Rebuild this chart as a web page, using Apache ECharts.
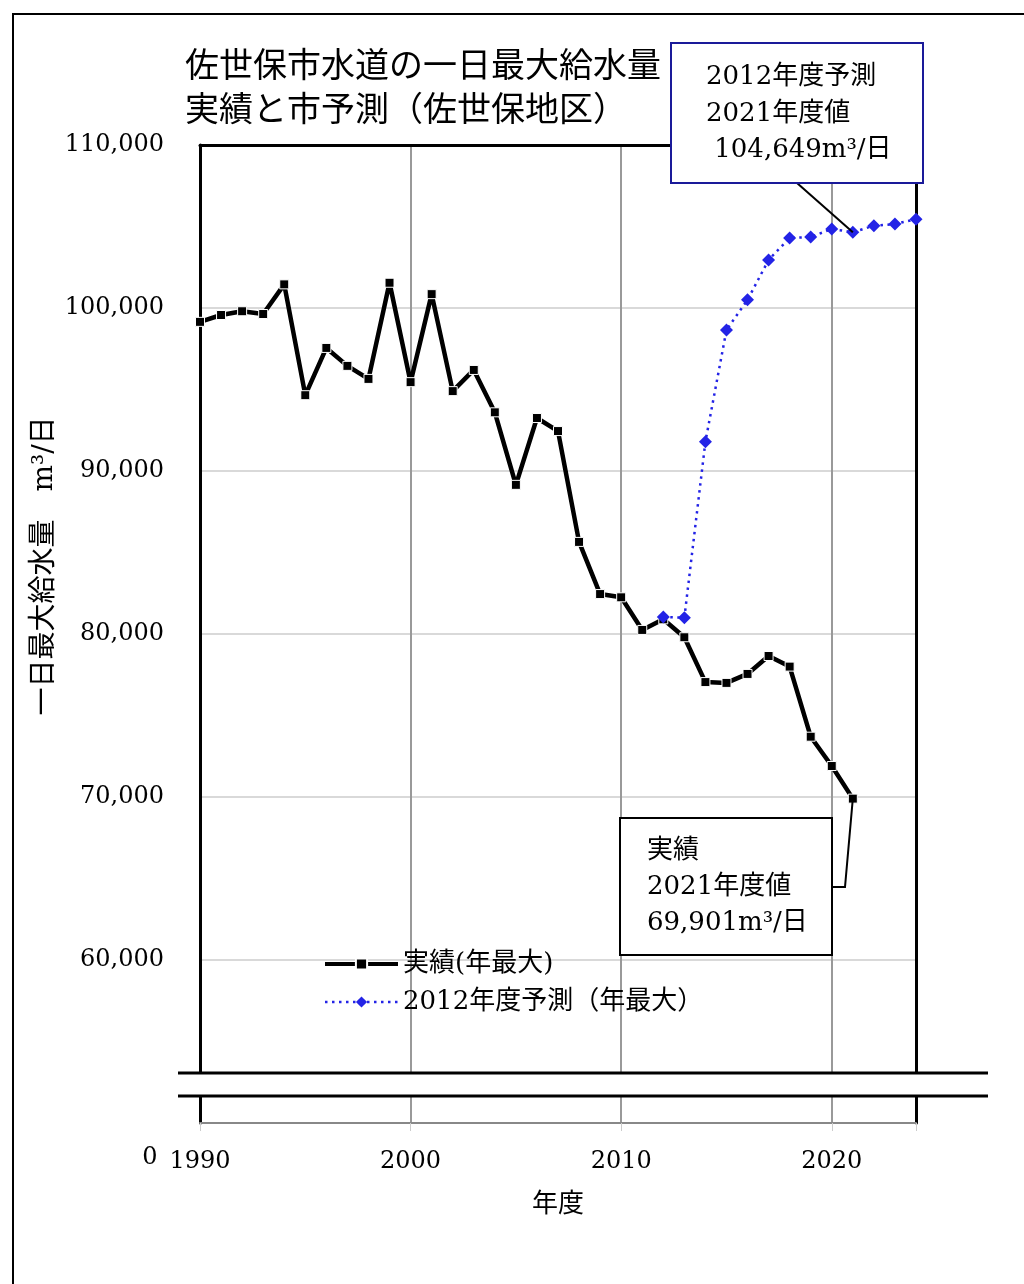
<!DOCTYPE html>
<html>
<head>
<meta charset="utf-8">
<script src="https://cdn.jsdelivr.net/npm/echarts@6/dist/echarts.min.js"></script>
<style>
  html, body { margin: 0; padding: 0; background: #fff; }
  #main { width: 1024px; height: 1284px; }
</style>
</head>
<body>
<div id="main"></div>
<script>
// 実績 (年最大)
var actualYears = [1990, 1991, 1992, 1993, 1994, 1995, 1996, 1997, 1998, 1999,
  2000, 2001, 2002, 2003, 2004, 2005, 2006, 2007, 2008, 2009,
  2010, 2011, 2012, 2013, 2014, 2015, 2016, 2017, 2018, 2019, 2020, 2021];
var actualValues = [99150, 99570, 99800, 99630, 101450, 94650, 97550, 96450, 95650, 101550,
  95450, 100850, 94900, 96200, 93600, 89150, 93250, 92450, 85650, 82450,
  82250, 80250, 80900, 79800, 77050, 77000, 77550, 78650, 78000, 73700, 71900, 69901];
// 2012年度予測 (年最大)
var forecastYears = [2012, 2013, 2014, 2015, 2016, 2017, 2018, 2019, 2020, 2021, 2022, 2023, 2024];
var forecastValues = [81050, 81000, 91800, 98650, 100500, 102950, 104300, 104350, 104850, 104649, 105050, 105150, 105450];
var xTickLabels = ['1990', '2000', '2010', '2020'];

var serif = '"DejaVu Serif", "Noto Sans CJK JP"';
var chart = echarts.init(document.getElementById('main'));

function pairs(xs, ys) {
  return xs.map(function (x, i) { return [x, ys[i]]; });
}

var option = {
  backgroundColor: '#fff',
  animation: false,
  title: {
    text: '佐世保市水道の一日最大給水量\n実績と市予測（佐世保地区）',
    left: 180,
    top: 37,
    textStyle: { fontFamily: '"Noto Sans CJK JP"', fontSize: 34, fontWeight: 'normal', color: '#000', lineHeight: 44 }
  },
  legend: {
    orient: 'vertical',
    left: 318,
    top: 946,
    itemWidth: 73,
    itemHeight: 14,
    itemGap: 12,
    textStyle: { fontFamily: serif, fontSize: 26, color: '#000' },
    data: [
      { name: '実績(年最大)', lineStyle: { width: 4 } },
      { name: '2012年度予測（年最大）', lineStyle: { width: 2.5 } }
    ]
  },
  grid: { left: 200, right: 108, top: 145, bottom: 161 },
  xAxis: [{
    type: 'value',
    min: 1990, max: 2024, interval: 10,
    name: '年度',
    nameLocation: 'middle',
    nameGap: 66,
    nameTextStyle: { fontFamily: '"Noto Sans CJK JP"', fontSize: 26, color: '#000' },
    axisLine: { lineStyle: { color: '#888', width: 2 } },
    axisTick: { show: true, length: 8, lineStyle: { color: '#ccc' } },
    axisLabel: {
      margin: 27,
      fontFamily: serif, fontSize: 24, color: '#000',
      formatter: function (v) { return xTickLabels.indexOf(String(v)) >= 0 ? String(v) : ''; }
    },
    splitLine: { show: true, lineStyle: { color: '#999', width: 2 } }
  }, {
    type: 'value',
    position: 'top',
    min: 1990, max: 2024, interval: 10,
    axisLine: { lineStyle: { color: '#000', width: 3 } },
    axisTick: { show: false }, axisLabel: { show: false }, splitLine: { show: false }
  }],
  yAxis: [{
    type: 'value',
    min: 50000, max: 110000, interval: 10000,
    axisLine: { show: true, lineStyle: { color: '#000', width: 3 } },
    axisTick: { show: false },
    axisLabel: {
      margin: 36,
      fontFamily: serif, fontSize: 24, color: '#000',
      formatter: function (v) { return v <= 50000 ? '' : echarts.format.addCommas(v); }
    },
    splitLine: { show: true, lineStyle: { color: '#d9d9d9', width: 2 } }
  }, {
    type: 'value',
    position: 'right',
    min: 50000, max: 110000, interval: 10000,
    axisLine: { show: true, lineStyle: { color: '#000', width: 3 } },
    axisTick: { show: false }, axisLabel: { show: false }, splitLine: { show: false }
  }],
  series: [{
    name: '実績(年最大)',
    type: 'line',
    data: pairs(actualYears, actualValues),
    symbol: 'rect',
    symbolSize: 9,
    showAllSymbol: true,
    lineStyle: { color: '#000', width: 4.5 },
    itemStyle: { color: '#000', borderColor: '#fff', borderWidth: 1 },
    z: 3
  }, {
    name: '2012年度予測（年最大）',
    type: 'line',
    data: pairs(forecastYears, forecastValues),
    symbol: 'diamond',
    symbolSize: 13,
    showAllSymbol: true,
    lineStyle: { color: '#2323e6', width: 2.5, type: [2.5, 4.5] },
    itemStyle: { color: '#2323e6' },
    z: 4
  }]
};
chart.setOption(option);

// annotation leaders end at the 2021 points
var pF = chart.convertToPixel({ gridIndex: 0 }, [2021, forecastValues[forecastYears.indexOf(2021)]]);
var pA = chart.convertToPixel({ gridIndex: 0 }, [2021, actualValues[actualYears.indexOf(2021)]]);

chart.setOption({
  graphic: [
    // outer frame
    { type: 'rect', z: 50, shape: { x: 13, y: 14, width: 1100, height: 1400 },
      style: { fill: null, stroke: '#000', lineWidth: 2 } },
    // axis break
    { type: 'rect', z: 60, shape: { x: 176, y: 1074, width: 816, height: 22 },
      style: { fill: '#fff', stroke: null } },
    { type: 'line', z: 61, shape: { x1: 178, y1: 1073, x2: 988, y2: 1073 },
      style: { stroke: '#000', lineWidth: 3 } },
    { type: 'line', z: 61, shape: { x1: 178, y1: 1096, x2: 988, y2: 1096 },
      style: { stroke: '#000', lineWidth: 3 } },
    { type: 'text', z: 61, style: { text: '0', x: 150, y: 1158, font: '24px ' + serif,
      fill: '#000', textAlign: 'center', textVerticalAlign: 'middle' } },
    // y axis name
    { type: 'text', z: 61, x: 45, y: 566, rotation: Math.PI / 2,
      style: { text: '一日最大給水量　m³/日', font: '28px ' + serif, fill: '#000',
        textAlign: 'center', textVerticalAlign: 'middle' } },
    // forecast annotation
    { type: 'line', z: 70, shape: { x1: 797, y1: 183, x2: pF[0], y2: pF[1] },
      style: { stroke: '#000', lineWidth: 2 } },
    { type: 'rect', z: 71, shape: { x: 671, y: 43, width: 252, height: 140 },
      style: { fill: '#fff', stroke: '#1a1a99', lineWidth: 2 } },
    { type: 'text', z: 72, style: { text: '2012年度予測\n2021年度値\n 104,649m³/日', x: 706, y: 59,
      font: '26px ' + serif, lineHeight: 36.5, fill: '#000', textVerticalAlign: 'top' } },
    // actual annotation
    { type: 'polyline', z: 70, shape: { points: [[832, 887], [845, 887], [pA[0], pA[1]]] },
      style: { stroke: '#000', lineWidth: 2, fill: null } },
    { type: 'rect', z: 71, shape: { x: 620, y: 818, width: 212, height: 137 },
      style: { fill: '#fff', stroke: '#000', lineWidth: 2 } },
    { type: 'text', z: 72, style: { text: '実績\n2021年度値\n69,901m³/日', x: 647, y: 833,
      font: '26px ' + serif, lineHeight: 36, fill: '#000', textVerticalAlign: 'top' } }
  ]
});
</script>
</body>
</html>
